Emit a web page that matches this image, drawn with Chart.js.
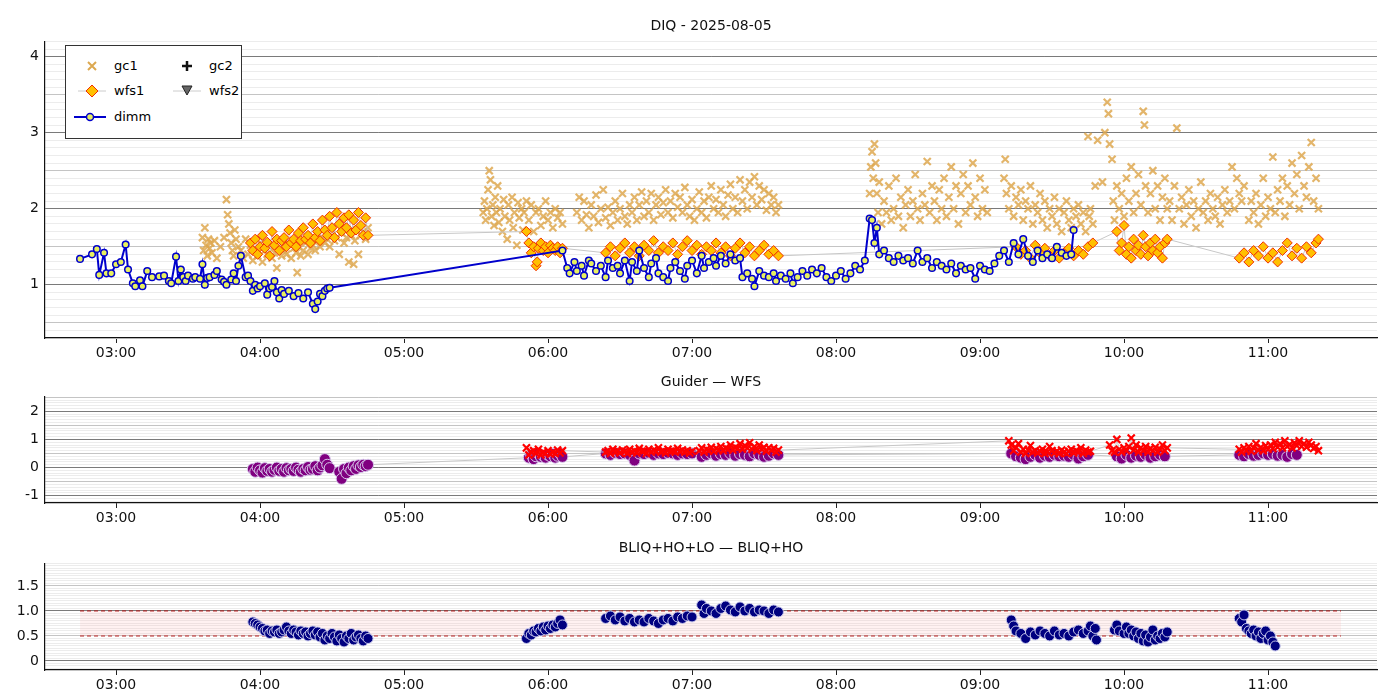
<!DOCTYPE html>
<html><head><meta charset="utf-8">
<script src="https://cdn.jsdelivr.net/npm/chart.js@4.4.0/dist/chart.umd.min.js"></script>
<style>
body{margin:0;background:#fff;font-family:"DejaVu Sans",sans-serif;}
.wrap{position:relative;width:1400px;height:700px;overflow:hidden;}
.box{position:absolute;left:0;width:1400px;}
.ttl{position:absolute;left:45px;width:1332px;text-align:center;font-size:14px;color:#111;z-index:2;}
#legend{position:absolute;left:65px;top:45px;width:175px;height:92px;border:1px solid #333;background:#fff;font-size:13px;z-index:3;}
#legend div{position:absolute;display:flex;align-items:center;}
#legend svg{margin-right:8px;}
</style></head><body>
<div class="wrap">
  <div class="box" style="top:27px;height:338px"><canvas id="c1"></canvas></div>
  <div class="box" style="top:382px;height:148px"><canvas id="c2"></canvas></div>
  <div class="box" style="top:549px;height:148px"><canvas id="c3"></canvas></div>
  <div class="ttl" style="top:17px">DIQ - 2025-08-05</div>
  <div class="ttl" style="top:373px">Guider — WFS</div>
  <div class="ttl" style="top:539px">BLIQ+HO+LO — BLIQ+HO</div>
  <div id="legend">
    <div style="left:12px;top:12px"><svg width="28" height="12"><path d="M10 2l8 8M18 2l-8 8" stroke="#dca850" stroke-width="2"/></svg>gc1</div>
    <div style="left:107px;top:12px"><svg width="28" height="12"><path d="M14 1v10M9 6h10" stroke="#111" stroke-width="2.5"/></svg>gc2</div>
    <div style="left:12px;top:37px"><svg width="28" height="14"><line x1="0" y1="7" x2="28" y2="7" stroke="#ccc"/><path d="M14 1l6 6-6 6-6-6z" fill="#ffc000" stroke="#f03000"/></svg>wfs1</div>
    <div style="left:107px;top:37px"><svg width="28" height="14"><line x1="0" y1="7" x2="28" y2="7" stroke="#ccc"/><path d="M9 2h10l-5 9z" fill="#666" stroke="#222"/></svg>wfs2</div>
    <div style="left:8px;top:63px"><svg width="32" height="12"><line x1="0" y1="6" x2="32" y2="6" stroke="#0000cc" stroke-width="2"/><circle cx="16" cy="6" r="3.5" fill="#e8f060" stroke="#0000cc" stroke-width="1.5"/></svg>dimm</div>
  </div>
</div>
<script>
// x values are minutes after 00:00 UT
const hourTicks = [180, 240, 300, 360, 420, 480, 540, 600, 660];
const X_MIN = 150.4, X_MAX = 705.4;

const dimm = [[165,1.34],[170,1.40],[172,1.47],[173,1.13],[175,1.42],[176,1.15],[178,1.15],[180,1.27],[182,1.30],[184,1.53],[185,1.20],[187,1.02],[188,0.98],[190,1.06],[191,0.98],[193,1.18],[195,1.10],[198,1.11],[200,1.12],[202,1.05],[203,1.02],[205,1.37],[206,1.05],[207,1.20],[208,1.10],[209,1.05],[210,1.12],[212,1.08],[213,1.10],[215,1.08],[216,1.27],[217,1.00],[218,1.09],[219,1.10],[221,1.13],[222,1.18],[224,1.07],[225,1.04],[226,1.00],[228,1.07],[229,1.15],[230,1.05],[231,1.25],[232,1.38],[234,1.10],[235,1.12],[236,1.05],[237,0.92],[238,1.00],[239,0.95],[240,0.98],[242,1.02],[243,0.87],[244,0.95],[245,0.97],[246,1.05],[247,0.90],[248,0.82],[249,0.93],[250,0.88],[252,0.92],[254,0.85],[256,0.89],[258,0.82],[260,0.90],[262,0.75],[263,0.68],[264,0.78],[265,0.88],[266,0.85],[267,0.92],[268,0.95],[269,0.96],
[366,1.45],[368,1.22],[369,1.15],[371,1.30],[372,1.18],[374,1.25],[375,1.12],[377,1.32],[378,1.28],[380,1.18],[382,1.25],[384,1.10],[385,1.32],[387,1.22],[389,1.25],[390,1.15],[392,1.32],[394,1.05],[395,1.30],[397,1.18],[398,1.45],[400,1.22],[402,1.10],[403,1.28],[405,1.35],[406,1.15],[408,1.10],[410,1.05],[411,1.22],[413,1.30],[415,1.18],[417,1.08],[418,1.25],[420,1.32],[422,1.15],[424,1.38],[425,1.22],[427,1.30],[429,1.35],[430,1.25],[432,1.38],[434,1.28],[436,1.40],[438,1.32],[440,1.35],[441,1.10],[443,1.15],[445,1.08],[446,0.98],[448,1.18],[450,1.12],[452,1.10],[454,1.15],[455,1.05],[457,1.12],[459,1.08],[461,1.15],[462,1.02],[464,1.10],[466,1.18],[468,1.12],[470,1.20],[472,1.15],[474,1.22],[476,1.10],[478,1.05],[480,1.12],[482,1.18],[484,1.08],[486,1.15],[488,1.25],[490,1.20],[492,1.32],[494,1.87],[495,1.85],[496,1.55],[497,1.75],[498,1.40],[500,1.45],[502,1.35],[504,1.30],[506,1.38],[508,1.32],[510,1.35],[512,1.28],[514,1.45],[516,1.30],[518,1.35],[520,1.22],[522,1.30],[524,1.25],[526,1.20],[528,1.28],[530,1.15],[532,1.25],[534,1.20],[536,1.22],[538,1.08],[540,1.25],[542,1.20],[544,1.18],[546,1.28],[548,1.38],[550,1.45],[552,1.30],[554,1.55],[556,1.40],[558,1.60],[560,1.38],[562,1.30],[564,1.45],[566,1.35],[568,1.40],[570,1.35],[572,1.50],[574,1.42],[576,1.38],[578,1.40],[579,1.72]];

const gc1 = [[216,1.62],[216.5,1.45],[217,1.75],[217.5,1.52],[218,1.38],[218.5,1.6],[219,1.48],[219.5,1.55],[220,1.42],[221,1.58],[222,1.35],[223.5,1.5],[225,1.62],[226,2.12],[226.5,1.92],[227,1.8],[227.5,1.68],[228,1.55],[228.5,1.45],[229,1.38],[229.5,1.72],[230,1.6],[231,1.5],
[232,1.45],[233,1.35],[234,1.6],[235,1.4],[236,1.52],[237,1.32],[238,1.48],[239,1.38],[240,1.55],[241,1.3],[242,1.45],[243,1.4],[244,1.5],[245,1.35],[246,1.42],[247,1.22],[248,1.5],[249,1.38],[250,1.45],[251,1.4],[252,1.55],[253,1.35],[254,1.48],[255,1.42],[255.5,1.16],[256,1.5],[257,1.38],[258,1.45],[259,1.55],[260,1.4],[261,1.48],[262,1.52],[263,1.45],[264,1.58],[265,1.5],[266,1.62],[267,1.55],[268,1.6],[269,1.5],[270,1.65],[271,1.58],[272,1.62],[273,1.4],[274,1.68],[275,1.55],[276,1.62],[277,1.3],[278,1.65],[279,1.27],[279.5,1.58],[280,1.72],[281,1.4],[282,1.65],[283,1.7],[284,1.6],[285,1.75],
[333,1.95],[333.5,2.1],[334,1.85],[334.5,2.0],[335,2.25],[335.5,2.5],[336,2.38],[336.5,1.9],[337,2.05],[337.5,1.78],[338,2.15],[338.5,1.95],[339,2.3],[339.5,1.82],[340,2.0],[341,1.7],[341.5,2.12],[342,1.9],[343,1.6],[343.5,2.05],[344,1.85],[345,2.15],[345.5,1.75],[346,1.95],[347,1.52],[347.5,2.08],[348,1.88],[349,2.0],[349.5,1.72],[350,1.95],[351,2.1],
[352,1.85],[353,2.05],[354,1.7],[355,1.95],[356,2.0],[357,1.78],[358,1.9],[359,2.1],[360,1.85],[361,1.95],[362,1.75],[363,2.0],[364,1.88],[365,1.95],[366,1.8],
[372,1.95],[373,2.15],[374,1.85],[375,2.1],[376,1.92],[377,1.75],[378,2.05],[379,1.9],[380,2.18],[381,1.82],[382,2.0],[383,2.25],[384,1.88],[385,2.02],[386,1.78],[387,1.95],[388,2.1],[389,1.85],[390,2.0],[391,2.2],[392,1.9],[393,1.8],[394,2.05],[395,1.95],[396,2.15],[397,1.85],[398,2.05],[399,2.22],[400,1.9],[401,2.1],[402,1.95],[403,2.2],[404,1.85],[405,2.05],[406,2.15],[407,1.92],[408,2.08],[409,2.25],[410,1.95],[411,2.1],[412,1.88],[413,2.2],[414,2.02],[415,2.15],[416,1.95],[417,2.28],[418,2.05],[419,1.9],[420,2.12],[421,1.85],[422,2.0],[423,2.22],[424,1.95],[425,2.1],[426,1.88],[427,2.15],[428,2.3],[429,2.0],[430,2.12],[431,1.95],[432,2.25],[433,2.05],[434,1.9],[435,2.18],[436,2.32],[437,2.0],[438,2.15],[439,1.95],[440,2.38],[441,2.1],[442,2.25],[443,2.0],[444,2.35],[445,2.15],[446,2.42],[447,2.05],[448,2.3],[449,2.12],[450,2.25],[451,1.98],[452,2.2],[453,2.05],[454,2.15],[455,1.95],[456,2.05],
[494,2.2],[494.5,2.55],[495,2.75],[495.5,2.4],[496,2.85],[496.5,2.6],[497,2.2],[497.5,1.95],[498,2.35],[499,1.8],[500,2.1],[501,1.95],[502,2.3],[503,1.85],[504,2.0],[505,2.4],[506,1.9],[507,2.15],[508,1.75],[509,2.05],[510,2.25],[511,1.9],[512,2.1],[513,2.45],[514,2.0],[515,1.85],[516,2.2],[517,2.05],[518,2.62],[519,1.95],[520,2.3],[521,2.1],[522,1.85],[523,2.25],[524,2.0],[525,2.4],[526,1.9],[527,2.15],[528,2.55],[529,2.0],[530,2.3],[531,1.8],[532,2.2],[533,2.45],[534,1.95],[535,2.3],[536,2.05],[537,2.6],[538,2.15],[539,1.9],[540,2.4],[541,2.0],[542,2.25],[543,1.95],
[550,2.4],[550.5,2.65],[551,2.2],[552,2.0],[553,2.3],[554,1.9],[555,2.15],[556,2.05],[557,2.25],[558,1.85],[559,2.1],[560,2.0],[561,2.3],[562,1.8],[563,2.05],[564,1.95],[565,2.2],[566,1.85],[567,2.1],[568,1.75],[569,2.0],[570,1.9],[571,2.15],[572,1.8],[573,2.0],[574,1.7],[575,1.95],[576,2.1],[577,1.85],[578,1.75],[579,2.0],[580,1.9],[581,2.05],[582,1.8],[583,1.95],[584,1.7],[585,2.95],[585.5,1.9],[586,2.0],[587,1.8],[588,2.3],
[589,2.9],[591,2.35],[592,3.0],[593,3.4],[593.5,3.25],[594,2.85],[595,2.65],[595.5,2.1],[596,1.85],[597,2.3],[598,2.0],[599,2.2],[600,1.9],[601,2.4],[602,2.1],[603,2.55],[604,1.95],[605,2.2],[606,2.45],[607,2.05],[608,3.28],[608.5,3.1],[609,2.3],[610,1.95],[611,2.2],[612,2.5],[613,2.0],[614,2.3],[615,1.85],[616,2.15],[617,2.4],[618,2.0],
[619,2.1],[620,1.85],[621,2.3],[622,3.06],[623,2.0],[624,2.15],[625,1.8],[626,2.05],[627,2.25],[628,1.9],[629,2.1],[630,1.75],[631,2.0],[632,2.35],[633,1.95],[634,2.1],[635,1.85],[636,2.2],[637,2.0],[638,1.9],[639,2.15],[640,1.8],[641,2.05],[642,2.25],[643,1.95],[644,2.1],[645,2.55],[646,2.0],[647,2.4],[648,2.2],[649,2.1],[650,2.3],
[652,1.85],[653,2.1],[654,1.95],[655,2.2],[656,1.8],[657,2.05],[658,2.4],[659,1.9],[660,2.15],[661,2.0],[662,2.68],[663,1.95],[664,2.25],[665,2.1],[666,2.4],[667,1.9],[668,2.3],[669,2.05],[670,2.6],[671,2.2],[672,2.45],[673,2.0],[674,2.7],[675,2.3],[676,2.15],[677,2.55],[678,2.87],[679,2.1],[680,2.4],[681,2.0]];

const wfs1 = [[236,1.55],[237,1.45],[238,1.6],[239,1.4],[240,1.5],[241,1.65],[242,1.48],[243,1.56],[244,1.38],[245,1.7],[246,1.52],[247,1.6],[248,1.45],[249,1.58],[250,1.62],[251,1.5],[252,1.72],[253,1.55],[254,1.6],[255,1.5],[256,1.68],[257,1.58],[258,1.75],[259,1.6],[260,1.65],[261,1.55],[262,1.8],[263,1.62],[264,1.7],[265,1.58],[266,1.85],[267,1.72],[268,1.65],[269,1.9],[270,1.75],[271,1.62],[272,1.95],[273,1.8],[274,1.7],[275,1.88],[276,1.75],[277,1.92],[278,1.68],[279,1.85],[280,1.72],[281,1.95],[282,1.78],[283,1.65],[284,1.88],[285,1.65],
[351,1.7],[352,1.55],[353,1.42],[354,1.5],[355,1.25],[355.5,1.3],[356,1.48],[357,1.55],[358,1.45],[359,1.5],[360,1.42],[361,1.52],[362,1.48],[363,1.45],[364,1.5],[365,1.42],[366,1.48],
[384,1.42],[386,1.5],[388,1.38],[390,1.48],[392,1.55],[394,1.42],[396,1.5],[398,1.38],[400,1.52],[402,1.45],[404,1.58],[406,1.42],[408,1.5],[410,1.45],[412,1.55],[414,1.4],[416,1.5],[418,1.58],[420,1.45],
[422,1.52],[424,1.4],[426,1.5],[428,1.45],[430,1.55],[432,1.42],[434,1.5],[436,1.38],[438,1.48],[440,1.55],[442,1.42],[444,1.5],[446,1.38],[448,1.45],[450,1.52],[452,1.4],[454,1.45],[456,1.38],
[555,1.5],[557,1.4],[559,1.45],[561,1.35],[563,1.52],[565,1.42],[567,1.48],[569,1.38],[571,1.45],[573,1.35],[575,1.42],[577,1.48],[579,1.38],[581,1.45],[583,1.4],[585,1.5],[587,1.55],
[597,1.7],[598,1.45],[599,1.55],[600,1.78],[601,1.4],[602,1.5],[603,1.35],[604,1.6],[605,1.45],[606,1.52],[607,1.4],[608,1.65],[609,1.5],[610,1.38],[611,1.55],[612,1.45],[613,1.6],[614,1.42],[615,1.5],[616,1.35],[617,1.55],[618,1.6],
[648,1.35],[650,1.42],[652,1.3],[654,1.45],[656,1.38],[658,1.5],[660,1.35],[662,1.42],[664,1.3],[666,1.45],[668,1.55],[670,1.38],[672,1.48],[674,1.35],[676,1.5],[678,1.42],[680,1.55],[681,1.6]];

const guider = [[237,-0.05],[238,-0.15],[239,0.0],[240,-0.1],[241,-0.18],[242,-0.02],[243,-0.12],[244,-0.05],[245,-0.15],[246,-0.08],[247,0.0],[248,-0.12],[249,-0.05],[250,-0.15],[251,-0.02],[252,-0.1],[253,-0.05],[254,-0.12],[255,0.0],[256,-0.08],[257,-0.15],[258,-0.05],[259,-0.1],[260,0.02],[261,-0.08],[262,-0.05],[263,0.05],[264,-0.1],[265,0.0],[266,0.08],[267,0.3],[268,0.1],[269,-0.02],
[273,-0.15],[274,-0.4],[275,-0.05],[276,-0.2],[277,0.0],[278,-0.1],[279,0.05],[280,-0.05],[281,0.08],[282,0.02],[283,0.1],[284,0.05],[285,0.1],
[352,0.35],[353,0.45],[354,0.3],[355,0.4],[356,0.5],[357,0.38],[358,0.42],[359,0.35],[360,0.45],[361,0.4],[362,0.48],[363,0.35],[364,0.42],[365,0.5],[366,0.38],
[384,0.5],[386,0.45],[388,0.52],[390,0.48],[392,0.5],[394,0.45],[396,0.25],[398,0.5],[400,0.48],[402,0.52],[404,0.45],[406,0.5],[408,0.48],[410,0.52],[412,0.5],[414,0.45],[416,0.5],[418,0.48],[420,0.5],
[424,0.38],[426,0.45],[428,0.5],[430,0.42],[432,0.48],[434,0.45],[436,0.5],[438,0.42],[440,0.48],[442,0.45],[444,0.4],[446,0.5],[448,0.45],[450,0.38],[452,0.42],[454,0.5],[456,0.45],
[553,0.5],[555,0.4],[557,0.35],[559,0.3],[561,0.38],[563,0.45],[565,0.35],[567,0.42],[569,0.38],[571,0.45],[573,0.4],[575,0.42],[577,0.38],[579,0.45],[581,0.32],[583,0.4],[585,0.45],
[597,0.4],[599,0.32],[601,0.45],[603,0.35],[605,0.42],[607,0.38],[609,0.45],[611,0.35],[613,0.4],[615,0.45],[617,0.4],
[648,0.45],[650,0.4],[652,0.48],[654,0.42],[656,0.45],[658,0.5],[660,0.45],[662,0.48],[664,0.42],[666,0.45],[668,0.38],[670,0.48],[672,0.45]];

const wfs = [[351,0.7],[352,0.45],[353,0.55],[354,0.6],[355,0.5],[356,0.65],[357,0.45],[358,0.55],[359,0.5],[360,0.6],[361,0.48],[362,0.55],[363,0.5],[364,0.62],[365,0.52],[366,0.6],
[384,0.55],[385,0.6],[386,0.5],[387,0.65],[388,0.55],[389,0.6],[390,0.52],[391,0.62],[392,0.58],[393,0.5],[394,0.65],[395,0.55],[396,0.6],[397,0.52],[398,0.68],[399,0.58],[400,0.6],[401,0.5],[402,0.65],[403,0.55],[404,0.62],[405,0.58],[406,0.7],[407,0.55],[408,0.6],[409,0.52],[410,0.65],[411,0.58],[412,0.6],[413,0.55],[414,0.68],[415,0.58],[416,0.62],[417,0.55],[418,0.6],[419,0.52],[420,0.58],
[423,0.6],[424,0.7],[425,0.55],[426,0.65],[427,0.6],[428,0.72],[429,0.58],[430,0.68],[431,0.62],[432,0.75],[433,0.6],[434,0.7],[435,0.65],[436,0.8],[437,0.62],[438,0.72],[439,0.68],[440,0.85],[441,0.65],[442,0.78],[443,0.7],[444,0.88],[445,0.65],[446,0.75],[447,0.6],[448,0.8],[449,0.65],[450,0.72],[451,0.58],[452,0.7],[453,0.62],[454,0.68],[455,0.55],[456,0.62],
[552,0.95],[553,0.8],[554,0.6],[555,0.7],[556,0.85],[557,0.55],[558,0.65],[559,0.5],[560,0.62],[561,0.78],[562,0.55],[563,0.6],[564,0.52],[565,0.58],[566,0.65],[567,0.5],[568,0.55],[569,0.75],[570,0.6],[571,0.52],[572,0.58],[573,0.5],[574,0.62],[575,0.55],[576,0.5],[577,0.58],[578,0.65],[579,0.52],[580,0.6],[581,0.55],[582,0.7],[583,0.5],[584,0.62],[585,0.55],[586,0.58],
[594,0.8],[595,0.6],[596,0.55],[597,1.0],[598,0.65],[599,0.55],[600,0.7],[601,0.6],[602,0.75],[603,1.05],[604,0.62],[605,0.8],[606,0.55],[607,0.7],[608,0.6],[609,0.75],[610,0.55],[611,0.68],[612,0.6],[613,0.72],[614,0.55],[615,0.65],[616,0.8],[617,0.6],[618,0.7],
[648,0.65],[649,0.55],[650,0.7],[651,0.6],[652,0.75],[653,0.58],[654,0.7],[655,0.85],[656,0.62],[657,0.72],[658,0.6],[659,0.78],[660,0.65],[661,0.8],[662,0.68],[663,0.9],[664,0.72],[665,0.85],[666,0.7],[667,0.95],[668,0.75],[669,0.82],[670,0.7],[671,0.88],[672,0.78],[673,0.95],[674,0.75],[675,0.85],[676,0.72],[677,0.9],[678,0.8],[679,0.68],[680,0.75],[681,0.6]];

const bliq = [[237,0.78],[238,0.75],[239,0.72],[240,0.68],[241,0.65],[242,0.6],[243,0.62],[244,0.55],[245,0.6],[246,0.58],[247,0.62],[248,0.55],[249,0.58],[250,0.62],[251,0.68],[252,0.6],[253,0.55],[254,0.62],[255,0.58],[256,0.52],[257,0.6],[258,0.55],[259,0.58],[260,0.5],[261,0.55],[262,0.6],[263,0.52],[264,0.58],[265,0.48],[266,0.55],[267,0.42],[268,0.5],[269,0.45],[270,0.55],[271,0.48],[272,0.4],[273,0.52],[274,0.45],[275,0.38],[276,0.5],[277,0.45],[278,0.55],[279,0.42],[280,0.48],[281,0.52],[282,0.45],[283,0.4],[284,0.5],[285,0.45],
[351,0.45],[352,0.55],[353,0.52],[354,0.6],[355,0.58],[356,0.65],[357,0.6],[358,0.68],[359,0.62],[360,0.7],[361,0.65],[362,0.72],[363,0.68],[364,0.75],[365,0.82],[366,0.72],
[384,0.85],[386,0.9],[388,0.82],[390,0.88],[392,0.8],[394,0.85],[396,0.78],[398,0.82],[400,0.78],[402,0.85],[404,0.8],[406,0.75],[408,0.82],[410,0.85],[412,0.8],[414,0.88],[416,0.85],[418,0.9],[420,0.88],
[424,1.12],[425,0.95],[426,1.05],[428,1.0],[430,0.95],[432,1.05],[434,1.1],[436,1.02],[438,0.98],[440,1.08],[442,1.0],[444,1.05],[446,0.98],[448,1.02],[450,1.0],[452,0.95],[454,1.02],[456,0.98],
[553,0.82],[554,0.7],[555,0.6],[557,0.55],[559,0.45],[561,0.58],[563,0.52],[565,0.6],[567,0.55],[569,0.5],[571,0.6],[573,0.52],[575,0.55],[577,0.5],[579,0.58],[581,0.62],[583,0.55],[585,0.6],[586,0.7],[587,0.5],[588,0.65],[588.5,0.42],
[596,0.62],[597,0.72],[598,0.6],[600,0.55],[601,0.68],[602,0.55],[603,0.62],[604,0.5],[605,0.58],[606,0.45],[607,0.55],[608,0.4],[609,0.52],[610,0.38],[611,0.48],[612,0.62],[613,0.42],[614,0.5],[615,0.45],[616,0.55],[617,0.48],[618,0.58],
[648,0.85],[649,0.78],[650,0.92],[651,0.65],[652,0.6],[653,0.55],[654,0.62],[655,0.5],[656,0.58],[657,0.45],[658,0.55],[659,0.6],[660,0.42],[661,0.5],[662,0.38],[663,0.3]];

const bandX = [165, 690.4];
const bandLo = 0.5, bandHi = 1.0;

const pts = a => a.map(([x, y]) => ({ x, y }));
const pad = n => String(n).padStart(2, "0");
const FONT = { family: "DejaVu Sans", size: 14 };

function xScale() {
  return {
    type: "linear", min: X_MIN, max: X_MAX,
    afterBuildTicks: s => { s.ticks = hourTicks.map(v => ({ value: v })); },
    afterFit: s => { s.height = 27; },
    ticks: { font: FONT, color: "#111", maxRotation: 0, autoSkip: false, padding: 2,
      callback: v => `${pad(Math.floor(v / 60))}:${pad(Math.round(v % 60))}` },
    grid: { display: true, drawOnChartArea: false, tickLength: 5, color: "#222" },
    border: { color: "#111", width: 1.2 },
  };
}

function yScale(min, max, step, labels, fmt) {
  return {
    type: "linear", min, max,
    afterBuildTicks: s => {
      const t = [];
      for (let k = Math.ceil(min / step - 1e-6); k * step <= max + 1e-9; k++) t.push({ value: +(k * step).toFixed(3) });
      s.ticks = t;
    },
    afterFit: s => { s.width = 45; },
    ticks: { font: FONT, color: "#111", autoSkip: false, padding: 6,
      callback: v => labels.some(l => Math.abs(l - v) < 1e-6) ? fmt(v) : "" },
    grid: {
      drawTicks: false,
      color: c => {
        const v = c.tick.value;
        if (Math.abs(v - Math.round(v)) < 1e-6) return "#7a7a7a";
        if (Math.abs(v * 2 - Math.round(v * 2)) < 1e-6) return "#c4c4c4";
        return "#ececec";
      },
    },
    border: { color: "#111", width: 1.2 },
  };
}

const baseOpts = (y) => ({
  responsive: true, maintainAspectRatio: false, animation: false,
  layout: { padding: { left: 0, right: 23, top: 0, bottom: 0 } },
  plugins: { legend: { display: false }, tooltip: { enabled: false } },
  scales: { x: xScale(), y },
});

new Chart(document.getElementById("c1"), {
  type: "scatter",
  data: { datasets: [
    { label: "dimm", data: pts(dimm), showLine: true, borderColor: "#0000cc", borderWidth: 2,
      pointBackgroundColor: "#e8f060", pointBorderColor: "#0000cc", pointBorderWidth: 1.5, pointRadius: 3.3, order: 1 },
    { label: "wfs1", data: pts(wfs1), showLine: true, borderColor: "#c8c8c8", borderWidth: 1,
      pointStyle: "rectRot", pointRadius: 5, pointBackgroundColor: "#ffc000", pointBorderColor: "#f03000", pointBorderWidth: 1, order: 2 },
    { label: "gc1", data: pts(gc1), pointStyle: "crossRot", pointRadius: 5, pointBorderColor: "rgba(222,168,80,0.85)", pointBorderWidth: 2.2, order: 3 },
  ] },
  options: baseOpts(yScale(0.3, 4.2, 0.1, [1, 2, 3, 4], v => String(Math.round(v)))),
});

new Chart(document.getElementById("c2"), {
  type: "scatter",
  data: { datasets: [
    { label: "wfs", data: pts(wfs), showLine: true, borderColor: "#c8c8c8", borderWidth: 1,
      pointStyle: "crossRot", pointRadius: 5, pointBorderColor: "#ff0000", pointBorderWidth: 2.2, order: 1 },
    { label: "guider", data: pts(guider), showLine: true, borderColor: "#c8c8c8", borderWidth: 1,
      pointRadius: 5.5, pointBackgroundColor: "#800080", pointBorderColor: "#d8c8ec", pointBorderWidth: 1, order: 2 },
  ] },
  options: baseOpts(yScale(-1.26, 2.53, 0.1, [-1, 0, 1, 2], v => String(Math.round(v)))),
});

new Chart(document.getElementById("c3"), {
  type: "scatter",
  data: { datasets: [
    { label: "bliq", data: pts(bliq), pointRadius: 5, pointBackgroundColor: "#000080",
      pointBorderColor: "#c8c8ec", pointBorderWidth: 1, order: 1 },
    { label: "hi", data: pts(bandX.map(x => [x, bandHi])), showLine: true, pointRadius: 0,
      borderColor: "#b01010", borderWidth: 1, borderDash: [4, 3], fill: "+1", backgroundColor: "rgba(255,180,180,0.18)", order: 2 },
    { label: "lo", data: pts(bandX.map(x => [x, bandLo])), showLine: true, pointRadius: 0,
      borderColor: "#b01010", borderWidth: 1, borderDash: [4, 3], order: 3 },
  ] },
  options: baseOpts(yScale(-0.18, 1.95, 0.05, [0, 0.5, 1, 1.5], v => Math.abs(v) < 1e-6 ? "0" : v.toFixed(1))),
});
</script>
</body></html>
